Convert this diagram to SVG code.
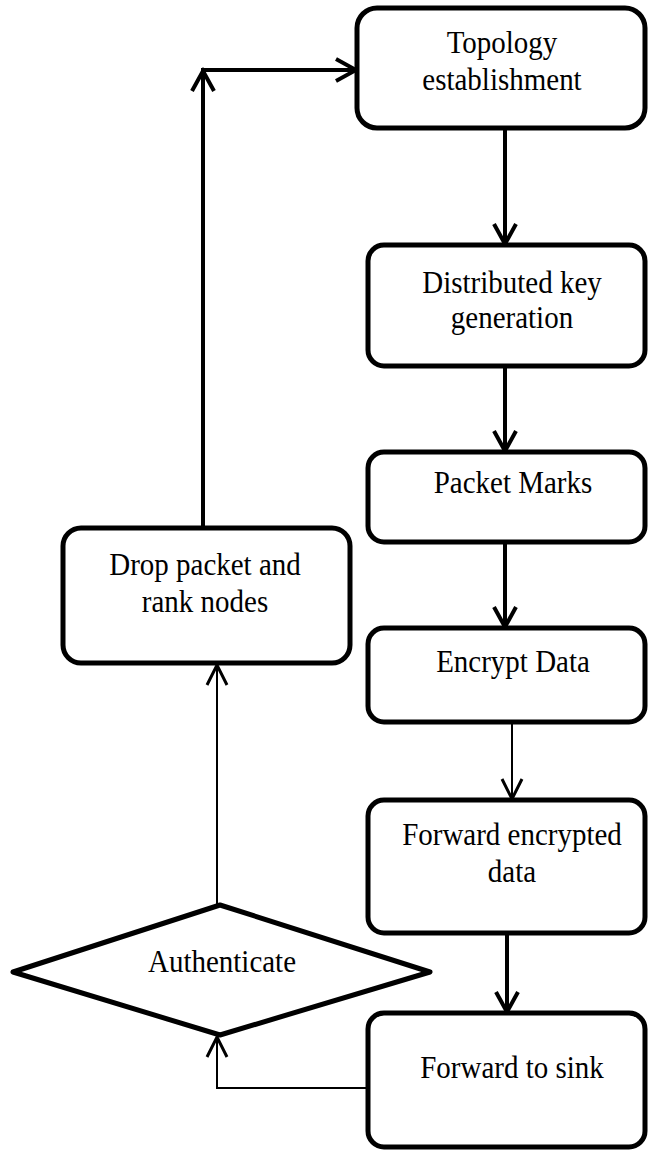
<svg xmlns="http://www.w3.org/2000/svg" width="648" height="1150" viewBox="0 0 648 1150">
  <style>
    .box { fill: #ffffff; stroke: #000000; stroke-width: 5; }
    .lbl { font-family: "Liberation Serif", "Times New Roman", serif; font-size: 29px; fill: #000000; text-anchor: middle; }
    .thick { fill: none; stroke: #000000; stroke-width: 4; }
    .thin { fill: none; stroke: #000000; stroke-width: 2; }
  </style>
  <defs>
    <marker id="headThick" markerUnits="userSpaceOnUse" viewBox="-24 -14 28 28" markerWidth="28" markerHeight="28" refX="0" refY="0" orient="auto">
      <path d="M -20 -11 L 0 0 L -20 11" fill="none" stroke="#000" stroke-width="4"/>
    </marker>
    <marker id="headThin" markerUnits="userSpaceOnUse" viewBox="-24 -14 28 28" markerWidth="28" markerHeight="28" refX="0" refY="0" orient="auto">
      <path d="M -20 -10 L 0 0 L -20 10" fill="none" stroke="#000" stroke-width="3"/>
    </marker>
  </defs>

  <rect width="648" height="1150" fill="#ffffff"/>

  <!-- connectors -->
  <g id="connectors">
    <path class="thick" d="M 203 528 L 203 71" marker-end="url(#headThick)"/>
    <path class="thick" d="M 201 70 L 356 70" marker-end="url(#headThick)"/>
    <path class="thick" d="M 505 128 L 505 244" marker-end="url(#headThick)"/>
    <path class="thick" d="M 505 368 L 505 451" marker-end="url(#headThick)"/>
    <path class="thick" d="M 505 542 L 505 627" marker-end="url(#headThick)"/>
    <path class="thin" d="M 512 722 L 512 799" marker-end="url(#headThin)"/>
    <path class="thick" d="M 507 933 L 507 1012" marker-end="url(#headThick)"/>
    <path class="thin" d="M 368 1088 L 217 1088 L 217 1037" marker-end="url(#headThin)"/>
    <path class="thin" d="M 217 905 L 217 665" marker-end="url(#headThin)"/>
  </g>

  <!-- process steps; labels are drawn slightly taller than wide -->
  <g id="topology">
    <rect class="box" x="357" y="8" width="288" height="120" rx="20"/>
    <text class="lbl" transform="translate(502 53) scale(1 1.12)">Topology</text>
    <text class="lbl" transform="translate(502 90) scale(1 1.12)">establishment</text>
  </g>
  <g id="keygen">
    <rect class="box" x="368" y="245" width="277" height="121" rx="16"/>
    <text class="lbl" transform="translate(512 293) scale(1 1.12)">Distributed key</text>
    <text class="lbl" transform="translate(512 328) scale(1 1.12)">generation</text>
  </g>
  <g id="marks">
    <rect class="box" x="368" y="452" width="277" height="90" rx="16"/>
    <text class="lbl" transform="translate(513 493) scale(1 1.12)">Packet Marks</text>
  </g>
  <g id="encrypt">
    <rect class="box" x="368" y="628" width="277" height="94" rx="16"/>
    <text class="lbl" transform="translate(513 672) scale(1 1.12)">Encrypt Data</text>
  </g>
  <g id="forward-enc">
    <rect class="box" x="368" y="800" width="277" height="133" rx="16"/>
    <text class="lbl" transform="translate(512 845) scale(1 1.12)">Forward encrypted</text>
    <text class="lbl" transform="translate(512 882) scale(1 1.12)">data</text>
  </g>
  <g id="sink">
    <rect class="box" x="368" y="1013" width="277" height="134" rx="16"/>
    <text class="lbl" transform="translate(512 1078) scale(1 1.12)">Forward to sink</text>
  </g>
  <g id="drop">
    <rect class="box" x="63" y="528" width="287" height="135" rx="18"/>
    <text class="lbl" transform="translate(205 575) scale(1 1.12)">Drop packet and</text>
    <text class="lbl" transform="translate(205 612) scale(1 1.12)">rank nodes</text>
  </g>
  <g id="authenticate">
    <polygon class="box" points="13,972 220,905 430,972 220,1035" stroke-linejoin="round"/>
    <text class="lbl" transform="translate(222 972) scale(1 1.12)">Authenticate</text>
  </g>
</svg>
